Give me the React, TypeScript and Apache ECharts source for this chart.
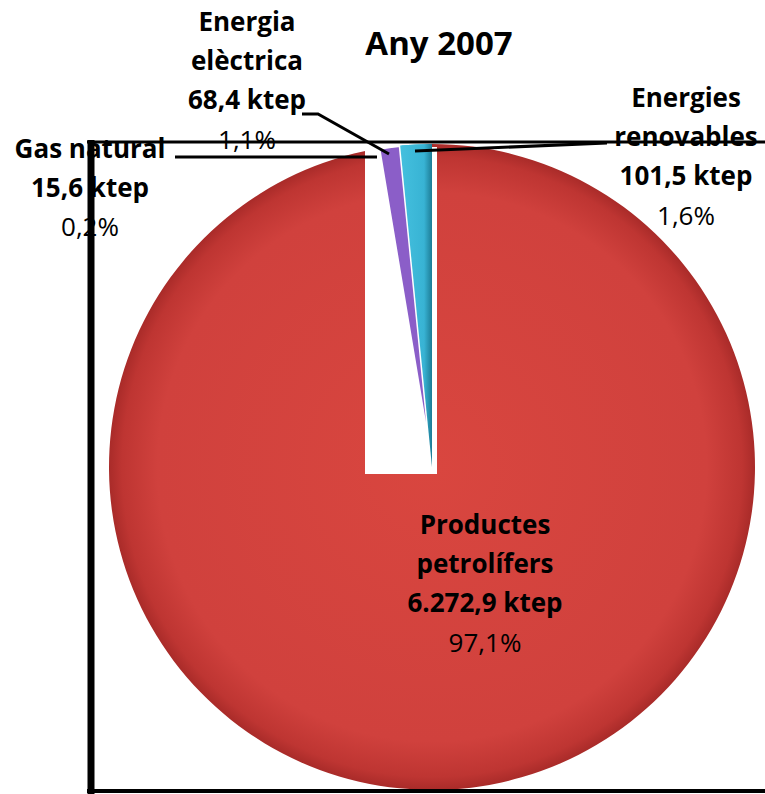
import React, { useEffect, useRef } from 'react';
import * as echarts from 'echarts';

const chartTitle = 'Any 2007';
const categories = ['Productes petrolífers', 'Gas natural', 'Energia elèctrica', 'Energies renovables'];
const labelNames = ['Productes\npetrolífers', 'Gas natural', 'Energia\nelèctrica', 'Energies\nrenovables'];
const values = [6272.9, 15.6, 68.4, 101.5];
const unit = 'ktep';

const FONT = '"Open Sans", Lato, sans-serif';

const labelPos: number[][] = [
  [485, 583],
  [90, 187],
  [247, 80],
  [686, 156],
];

function fmtNum(v: number): string {
  const [i, d] = v.toFixed(1).split('.');
  return i.replace(/\B(?=(\d{3})+(?!\d))/g, '.') + ',' + d;
}

const total = values.reduce((a, b) => a + b, 0);

const redFill = new echarts.graphic.RadialGradient(0.5, 0.5, 0.5, [
  { offset: 0, color: '#D9463F' },
  { offset: 0.85, color: '#D0413D' },
  { offset: 0.96, color: '#BE3532' },
  { offset: 1, color: '#A92B29' },
]);
const cyanFill = new echarts.graphic.LinearGradient(0, 0, 1, 0, [
  { offset: 0, color: '#44C0DE' },
  { offset: 0.75, color: '#38B3D4' },
  { offset: 1, color: '#1D7C96' },
]);
const purpleFill = '#8B5EC8';
const gasFill = '#4F81BD';

const baseColors = [redFill, gasFill, purpleFill, cyanFill];
const topColors = ['rgba(0,0,0,0)', 'rgba(0,0,0,0)', purpleFill, cyanFill];
const topBorders = [0, 0, 3, 0];

export default function App() {
  const ref = useRef<HTMLDivElement>(null);
  useEffect(() => {
    if (!ref.current) return;
    const chart = echarts.init(ref.current, null, { renderer: 'svg' });
    const common = {
      type: 'pie',
      center: [432, 467],
      radius: 323,
      startAngle: 90,
      clockwise: true,
      avoidLabelOverlap: false,
      labelLine: { show: false },
    };
    const option = {
      animation: false,
      backgroundColor: '#ffffff',
      title: {
        text: chartTitle,
        left: 434,
        top: 21,
        textAlign: 'center',
        textStyle: { fontFamily: FONT, fontWeight: 'bold', fontSize: 33, color: '#000' },
      },
      series: [
        {
          ...common,
          z: 2,
          label: { show: false },
          data: categories.map((c, i) => ({
            name: c,
            value: values[i],
            itemStyle: { color: baseColors[i] },
          })),
        },
        {
          ...common,
          z: 10,
          label: {
            show: true,
            color: '#000',
            fontFamily: FONT,
            align: 'center',
            formatter: (p: any) => {
              const idx = p.dataIndex;
              const nameLines = labelNames[idx].split('\n').map((l) => `{b|${l}}`).join('\n');
              const pct = ((values[idx] / total) * 100).toFixed(1).replace('.', ',');
              return `${nameLines}\n{b|${fmtNum(values[idx])} ${unit}}\n{p|${pct}%}`;
            },
            rich: {
              b: { fontFamily: FONT, fontWeight: 'bold', fontSize: 26, lineHeight: 39, color: '#000', align: 'center' },
              p: { fontFamily: FONT, fontWeight: 'normal', fontSize: 26, lineHeight: 40, color: '#000', align: 'center' },
            },
          },
          labelLayout: (params: any) => {
            const pos = labelPos[params.dataIndex];
            return { x: pos[0], y: pos[1], align: 'center', verticalAlign: 'middle' };
          },
          data: categories.map((c, i) => ({
            name: c,
            value: values[i],
            itemStyle: {
              color: topColors[i],
              borderColor: '#ffffff',
              borderWidth: topBorders[i],
            },
          })),
        },
      ],
      graphic: [
        { type: 'rect', z: 5, shape: { x: 365, y: 147, width: 72, height: 327 }, style: { fill: '#ffffff' } },
        { type: 'line', z: 50, shape: { x1: 87, y1: 142, x2: 765, y2: 142 }, style: { stroke: '#000', lineWidth: 3 } },
        { type: 'line', z: 50, shape: { x1: 91, y1: 140, x2: 91, y2: 794 }, style: { stroke: '#000', lineWidth: 7 } },
        { type: 'line', z: 50, shape: { x1: 87, y1: 791, x2: 765, y2: 791 }, style: { stroke: '#000', lineWidth: 4 } },
        { type: 'line', z: 50, shape: { x1: 175, y1: 157, x2: 377, y2: 157 }, style: { stroke: '#000', lineWidth: 3 } },
        { type: 'polyline', z: 50, shape: { points: [[302, 114], [318, 114], [389, 154]] }, style: { stroke: '#000', lineWidth: 3, fill: 'none' } },
        { type: 'line', z: 50, shape: { x1: 415, y1: 151, x2: 607, y2: 143 }, style: { stroke: '#000', lineWidth: 3 } },
      ],
    };
    chart.setOption(option as any);
    return () => chart.dispose();
  }, []);
  return (
    <div
      ref={ref}
      style={{ position: 'fixed', left: 0, top: 0, width: 765, height: 794 }}
    />
  );
}
